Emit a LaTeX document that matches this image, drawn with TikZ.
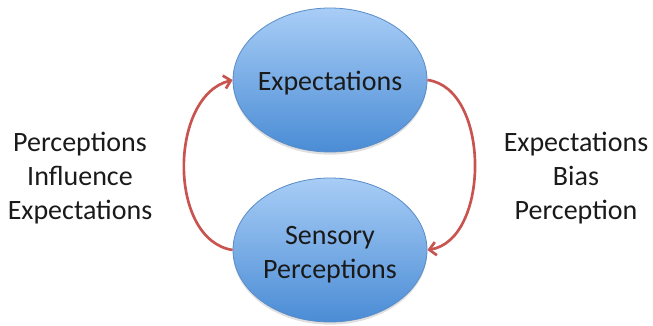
\documentclass[tikz,border=0pt]{standalone}
\usepackage{fontspec}
\setmainfont{Carlito}
\usetikzlibrary{arrows.meta,shadows,shapes.geometric}

\definecolor{bubbleTop}{HTML}{A8CDF6}
\definecolor{bubbleBottom}{HTML}{4A8CD5}
\definecolor{bubbleEdge}{HTML}{5A8CC8}
\definecolor{loopRed}{HTML}{C9544F}
\definecolor{inkDark}{HTML}{1A1A1A}

\tikzset{
  bubble/.style={ellipse, draw=bubbleEdge, line width=0.6pt,
    top color=bubbleTop, bottom color=bubbleBottom,
    minimum width=145.5pt, minimum height=108pt, inner sep=0pt,
    drop shadow={shadow xshift=0pt, shadow yshift=-2pt, opacity=0.25}},
  bubbletext/.style={align=center, text=inkDark, inner sep=0pt,
    font=\fontsize{21}{25}\selectfont},
  caption/.style={align=center, text=inkDark,
    font=\fontsize{21}{25.5}\selectfont},
  cycleline/.style={draw=loopRed, line width=2pt,
    -{Straight Barb[length=5pt, width=10pt, line width=2pt]}}
}

\begin{document}
\begin{tikzpicture}[x=0.75pt, y=-0.75pt]
  \useasboundingbox (0,0) rectangle (653,325);

  % the two ellipses and their labels
  \node[bubble] (top) at (330,80) {};
  \node[bubble] (bot) at (330,250) {};
  \node[bubbletext] (topText) at ([yshift=-2.5pt]top.center) {Expectations};
  \node[bubbletext] (botText) at ([yshift=-3.5pt]bot.center) {Sensory\\Perceptions};

  % side captions
  \node[caption] (left) at (80,178) {Perceptions\\Influence\\Expectations};
  \node[caption] (right) at (576,178) {Expectations\\Bias\\Perception};

  % feedback loop
  \draw[cycleline] (bot.west) .. controls +(-65,-10) and +(-64,16) .. (top.west);
  \draw[cycleline] (top.east) .. controls +(63,8) and +(63,-10) .. (bot.east);
\end{tikzpicture}
\end{document}
